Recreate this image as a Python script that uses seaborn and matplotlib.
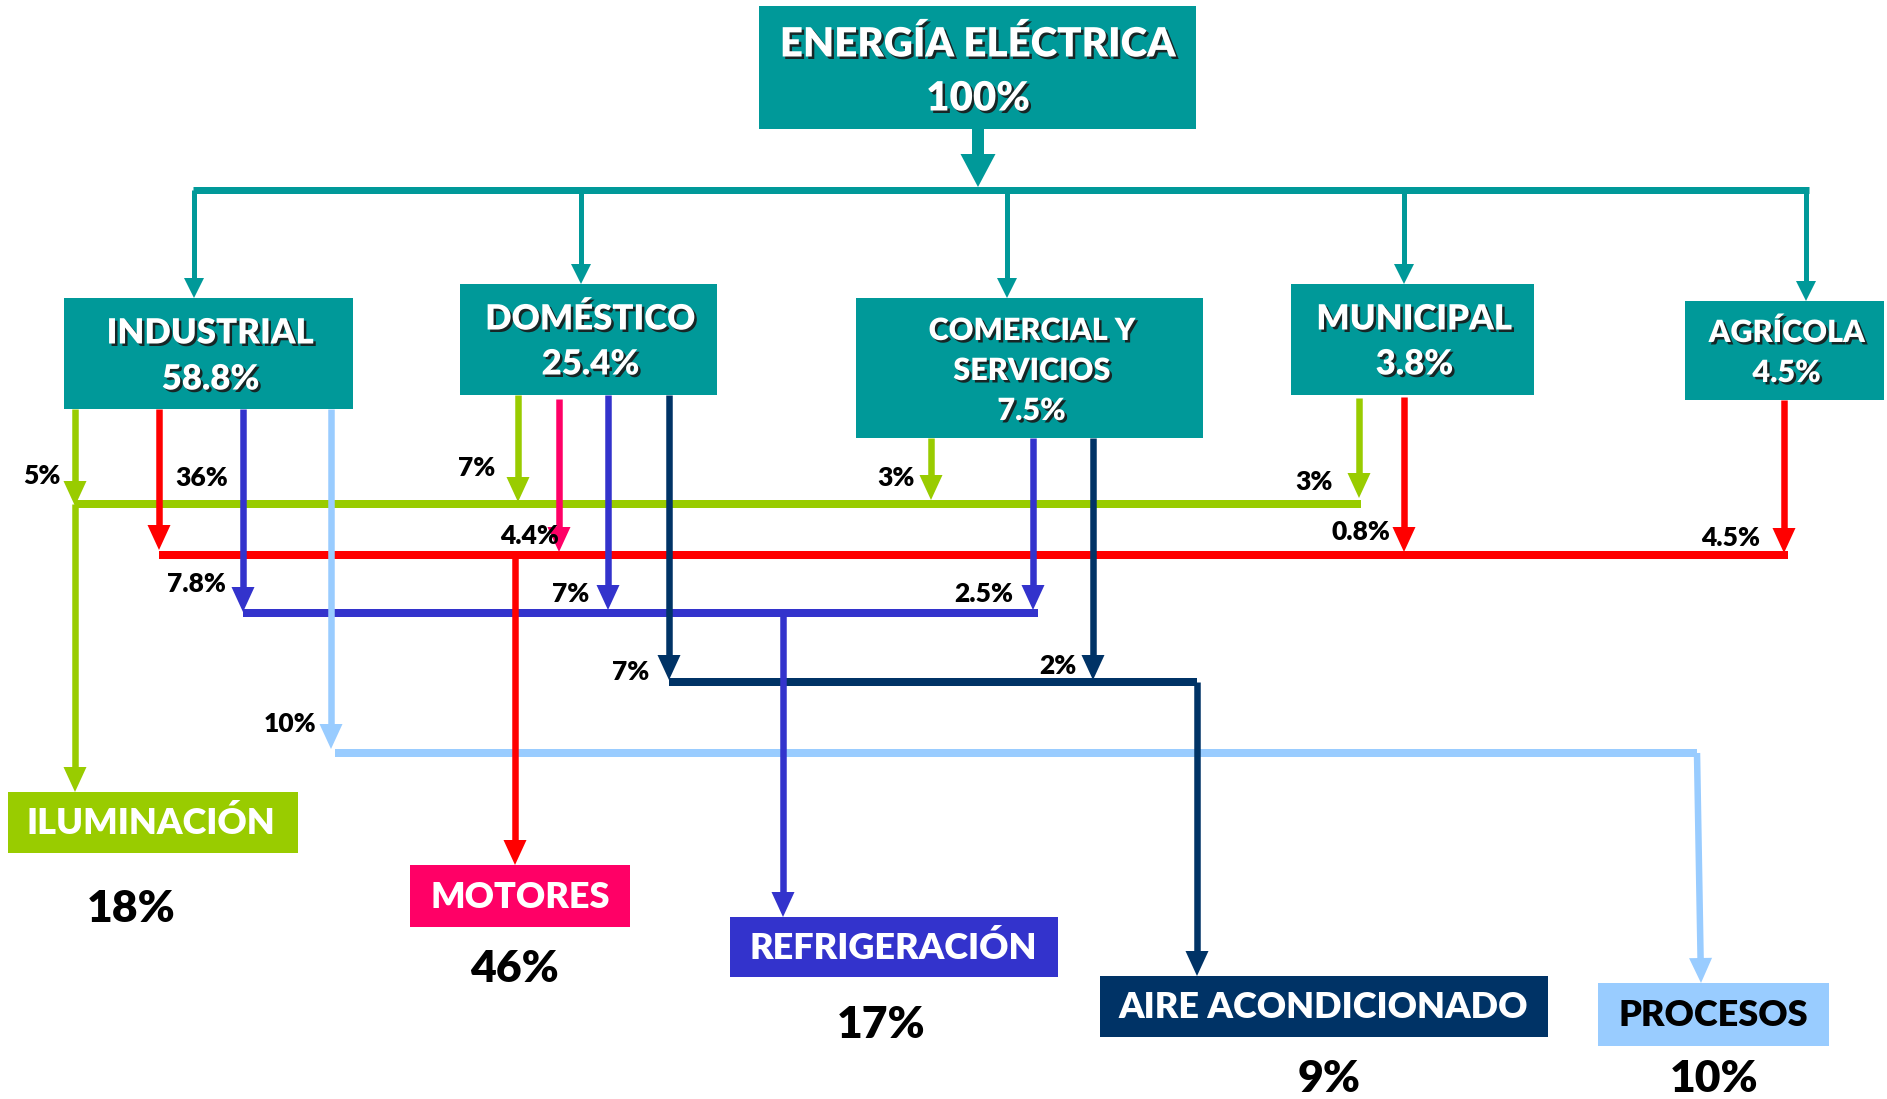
import matplotlib
matplotlib.use("Agg")
import matplotlib.pyplot as plt
import matplotlib.patheffects as pe
from matplotlib.patches import Rectangle, Polygon
import numpy as np
import seaborn as sns

# ---------------- data ----------------
total_label = ["ENERGÍA ELÉCTRICA", "100%"]
sectors = ["INDUSTRIAL", "DOMÉSTICO", "COMERCIAL Y\nSERVICIOS", "MUNICIPAL", "AGRÍCOLA"]
sector_share = ["58.8%", "25.4%", "7.5%", "3.8%", "4.5%"]
uses = ["ILUMINACIÓN", "MOTORES", "REFRIGERACIÓN", "AIRE ACONDICIONADO", "PROCESOS"]
use_share = ["18%", "46%", "17%", "9%", "10%"]
flow_src = [0, 0, 0, 0, 1, 1, 1, 1, 2, 2, 2, 3, 3, 4]
flow_dst = [0, 1, 2, 4, 0, 1, 2, 3, 0, 2, 3, 0, 1, 1]
flow_val = ["5%", "36%", "7.8%", "10%", "7%", "4.4%", "7%", "7%", "3%", "2.5%", "2%", "3%", "0.8%", "4.5%"]

# ---------------- layout / style ----------------
TEAL = "#009999"
use_colors = ["#99CC00", "#FF0000", "#3333CC", "#003366", "#99CCFF"]
use_text_colors = ["white", "white", "white", "white", "black"]
use_box_colors = ["#99CC00", "#FF0066", "#3333CC", "#003366", "#99CCFF"]

top_box = (759, 6, 1196, 129)
sector_boxes = [(64, 298, 353, 409), (460, 284, 717, 395), (856, 298, 1203, 438),
                (1291, 284, 1534, 395), (1685, 301, 1884, 400)]
sector_drop_x = [194, 581, 1007, 1404, 1806]
sector_text_y = [(331, 377), (317, 362), (329, 369, 409), (317, 362), (331, 371)]
sector_cap = [25, 25, 22, 25, 22]

use_boxes = [(8, 792, 298, 853), (410, 865, 630, 927), (730, 917, 1058, 977),
             (1100, 976, 1548, 1037), (1598, 983, 1829, 1046)]
use_text_xy = [(151, 821), (520, 895), (893, 946), (1323, 1005), (1713, 1013)]
use_pct_xy = [(131, 906), (514, 966), (881, 1022), (1329, 1076), (1714, 1076)]

collector_y = [504, 555, 613, 682, 753]
collector_x = [(75, 1361), (159, 1788), (243, 1038), (669, 1197), (335, 1697)]
down_x = [(75, 75), (515, 515), (783, 783), (1197, 1197), (1697, 1701)]
flow_x = [75, 159, 243, 331, 518, 559, 608, 669, 931, 1033, 1093, 1359, 1404, 1784]
flow_tip_y = [506, 550, 612, 749, 502, 552, 610, 680, 500, 610, 680, 498, 552, 553]
flow_start_y = [409, 409, 409, 409, 395, 399, 395, 395, 438, 438, 438, 398, 397, 400]
flow_label_xy = [(42, 474), (202, 476), (196, 582), (290, 722), (477, 466), (530, 534),
                 (571, 592), (631, 670), (896, 476), (984, 592), (1058, 665), (1314, 480),
                 (1361, 530), (1731, 537)]
flow_colors = [use_colors[d] for d in flow_dst]
flow_colors[5] = "#FF0066"

sns.set_theme(style="white")
plt.rcParams['font.family'] = ['Lato', 'DejaVu Sans']

fig = plt.figure(figsize=(18.87, 10.99), dpi=100)
ax = fig.add_axes([0, 0, 1, 1])
ax.set_xlim(0, 1887)
ax.set_ylim(1099, 0)
ax.axis("off")

PX = 0.72  # px -> pt at 100 dpi


def box(b, color):
    ax.add_patch(Rectangle((b[0], b[1]), b[2] - b[0], b[3] - b[1], facecolor=color,
                           edgecolor="none", zorder=3))


def arrow(x0, y0, x1, y1, color, lw, hw, hl, z=2):
    d = np.array([x1 - x0, y1 - y0], float)
    L = np.hypot(*d)
    u = d / L
    p = np.array([-u[1], u[0]])
    base = np.array([x1, y1]) - u * hl
    ax.plot([x0, base[0] + u[0]], [y0, base[1] + u[1]], color=color, lw=lw * PX,
            solid_capstyle="butt", zorder=z)
    tri = [(x1, y1), tuple(base + p * hw / 2), tuple(base - p * hw / 2)]
    ax.add_patch(Polygon(tri, closed=True, facecolor=color, edgecolor="none", zorder=z))


def hline(x0, x1, y, color, lw, z=1):
    ax.plot([x0, x1], [y, y], color=color, lw=lw * PX, solid_capstyle="butt", zorder=z)


def text(x, yc, s, cap, color="black", shadow=False, z=5):
    eff = [pe.withSimplePatchShadow(offset=(1.8, -1.8), shadow_rgbFace="#1a1a1a", alpha=0.9)] if shadow else None
    ax.text(x, yc + cap / 2, s, fontsize=cap * 1.0, fontweight="heavy", color=color,
            ha="center", va="baseline", zorder=z, path_effects=eff)


# top node
box(top_box, TEAL)
text(978, 42, total_label[0], 29, "white", True)
text(978, 96, total_label[1], 29, "white", True)
arrow(978, 129, 978, 187, TEAL, 12, 35, 33, z=2)
hline(193, 1809, 190, TEAL, 7, z=2)

# sectors
for i, b in enumerate(sector_boxes):
    box(b, TEAL)
    arrow(sector_drop_x[i], 190, sector_drop_x[i], b[1], TEAL, 5, 20, 20, z=2)
    lines = sectors[i].split("\n") + [sector_share[i]]
    for ln, yy in zip(lines, sector_text_y[i]):
        text((b[0] + b[2]) / 2 + 2, yy, ln, sector_cap[i], "white", True)

# collectors and down arrows to end uses
for j in range(len(uses)):
    c = use_colors[j]
    hline(collector_x[j][0], collector_x[j][1], collector_y[j], c, 8, z=1)
    arrow(down_x[j][0], collector_y[j], down_x[j][1], use_boxes[j][1], c, 6.5, 23, 25, z=2)
    box(use_boxes[j], use_box_colors[j])
    text(use_text_xy[j][0], use_text_xy[j][1], uses[j], 26, use_text_colors[j], False)
    text(use_pct_xy[j][0], use_pct_xy[j][1], use_share[j], 32, "black")

# flows from sectors
for k in range(len(flow_val)):
    arrow(flow_x[k], flow_start_y[k], flow_x[k], flow_tip_y[k], flow_colors[k], 6.5, 23, 25, z=2)
    text(flow_label_xy[k][0], flow_label_xy[k][1], flow_val[k], 19, "black")

fig.savefig("out.png", dpi=100, facecolor="white")
